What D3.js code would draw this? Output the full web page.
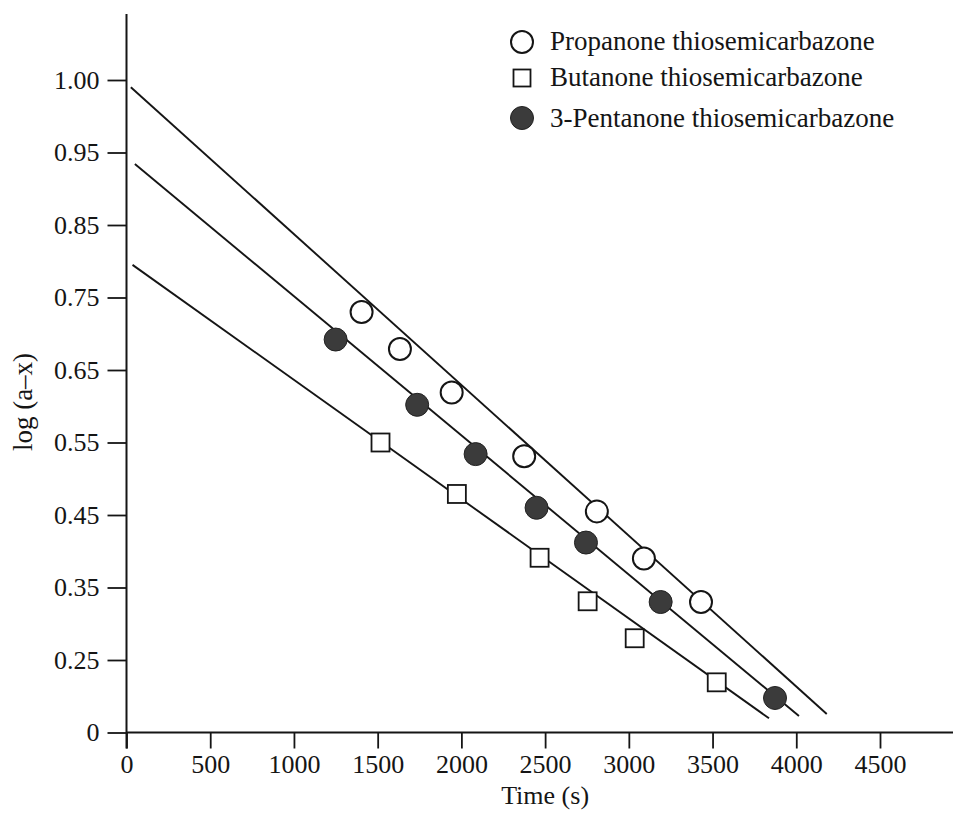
<!DOCTYPE html>
<html>
<head>
<meta charset="utf-8">
<script src="https://cdn.jsdelivr.net/npm/d3@7"></script>
<style>
  html, body { margin: 0; padding: 0; background: #fff; }
  svg { display: block; font-family: "Liberation Serif", "Times New Roman", serif; }
</style>
</head>
<body>
<svg id="chart" width="954" height="814"></svg>
<script>
// ---------- data ----------
const seriesNames = ["Propanone thiosemicarbazone", "Butanone thiosemicarbazone", "3-Pentanone thiosemicarbazone"];

const propTime = [1404, 1633, 1942, 2375, 2809, 3090, 3431];
const propVal  = [0.730, 0.679, 0.619, 0.531, 0.455, 0.390, 0.330];

const butTime  = [1517, 1973, 2467, 2754, 3035, 3525];
const butVal   = [0.550, 0.479, 0.391, 0.331, 0.280, 0.173];

const pentTime = [1249, 1736, 2085, 2449, 2744, 3190, 3873];
const pentVal  = [0.692, 0.602, 0.534, 0.460, 0.412, 0.330, 0.119];

// fitted straight lines: [start, end]
const propFitTime = [26, 4182];
const propFitVal  = [0.995, 0.064];
const butFitTime  = [36, 3837];
const butFitVal   = [0.795, 0.049];
const pentFitTime = [50, 4016];
const pentFitVal  = [0.934, 0.057];

const xTicks = [0, 500, 1000, 1500, 2000, 2500, 3000, 3500, 4000, 4500];
const yTicks = [0, 0.25, 0.35, 0.45, 0.55, 0.65, 0.75, 0.85, 0.95, 1.00];
const yTickLabels = ["0", "0.25", "0.35", "0.45", "0.55", "0.65", "0.75", "0.85", "0.95", "1.00"];

const xLabel = "Time (s)";
const yLabel = "log (a\u2013x)";

// ---------- layout ----------
const svg = d3.select("#chart");
const W = 954, H = 814;
const left = 126.5, xRight = 880;
const yBottom = 732.5, yTop = 80;
const ink = "#151515";
const fillDark = "#3b3b3b";

const x = d3.scaleLinear().domain([0, 4500]).range([left, xRight]);
// axis ticks are evenly spaced on the page (piecewise linear scale)
const step = (yBottom - yTop) / (yTicks.length - 1);
const y = d3.scaleLinear().domain(yTicks).range(yTicks.map((d, i) => yBottom - i * step));

// ---------- axes ----------
const gx = svg.append("g").attr("transform", `translate(0,${yBottom})`)
  .call(d3.axisBottom(x).tickValues(xTicks).tickFormat(d3.format("d"))
        .tickSize(16).tickSizeOuter(0).tickPadding(6));
gx.select(".domain").remove();
gx.selectAll(".tick line").attr("stroke", ink).attr("stroke-width", 1.8);
gx.selectAll(".tick text").attr("fill", ink).style("font-size", "26px")
  .style("font-family", "'Liberation Serif', 'Times New Roman', serif");
svg.append("line").attr("x1", left).attr("x2", W - 1)
  .attr("y1", yBottom).attr("y2", yBottom)
  .attr("stroke", ink).attr("stroke-width", 2);

const gy = svg.append("g").attr("transform", `translate(${left},0)`)
  .call(d3.axisLeft(y).tickValues(yTicks).tickFormat((d, i) => yTickLabels[i])
        .tickSize(19).tickSizeOuter(0).tickPadding(8));
gy.select(".domain").remove();
gy.selectAll(".tick line").attr("stroke", ink).attr("stroke-width", 1.8);
gy.selectAll(".tick text").attr("fill", ink).style("font-size", "26px")
  .style("font-family", "'Liberation Serif', 'Times New Roman', serif");
svg.append("line").attr("x1", left).attr("x2", left)
  .attr("y1", 14).attr("y2", yBottom + 16)
  .attr("stroke", ink).attr("stroke-width", 2);

// axis titles
svg.append("text").attr("x", x(2500)).attr("y", 804)
  .attr("text-anchor", "middle").attr("fill", ink)
  .style("font-size", "26px").text(xLabel);
svg.append("text").attr("transform", `translate(23,${402}) rotate(-90)`)
  .attr("text-anchor", "middle").attr("dy", "0.35em").attr("fill", ink)
  .style("font-size", "27px").text(yLabel);

// ---------- fitted lines ----------
const line = d3.line().x(d => x(d[0])).y(d => y(d[1]));
const fits = [
  d3.zip(propFitTime, propFitVal),
  d3.zip(butFitTime, butFitVal),
  d3.zip(pentFitTime, pentFitVal)
];
svg.append("g").selectAll("path").data(fits).join("path")
  .attr("d", line).attr("fill", "none").attr("stroke", ink).attr("stroke-width", 1.9);

// ---------- markers ----------
const R = 11, SQ = 18;
svg.append("g").selectAll("circle").data(d3.zip(propTime, propVal)).join("circle")
  .attr("cx", d => x(d[0])).attr("cy", d => y(d[1])).attr("r", R)
  .attr("fill", "#fff").attr("stroke", ink).attr("stroke-width", 2);

svg.append("g").selectAll("rect").data(d3.zip(butTime, butVal)).join("rect")
  .attr("x", d => x(d[0]) - SQ / 2).attr("y", d => y(d[1]) - SQ / 2)
  .attr("width", SQ).attr("height", SQ)
  .attr("fill", "#fff").attr("stroke", ink).attr("stroke-width", 1.8);

svg.append("g").selectAll("circle").data(d3.zip(pentTime, pentVal)).join("circle")
  .attr("cx", d => x(d[0])).attr("cy", d => y(d[1])).attr("r", R + 0.5)
  .attr("fill", fillDark).attr("stroke", "#222").attr("stroke-width", 1);

// ---------- legend ----------
const legend = svg.append("g");
const legY = [42, 78, 118];
const legBase = [50, 86, 127];
seriesNames.forEach((name, i) => {
  const mx = 522;
  if (i === 0) {
    legend.append("circle").attr("cx", mx).attr("cy", legY[i]).attr("r", R)
      .attr("fill", "#fff").attr("stroke", ink).attr("stroke-width", 2);
  } else if (i === 1) {
    legend.append("rect").attr("x", mx - 8.5).attr("y", legY[i] - 8.5)
      .attr("width", 17).attr("height", 17)
      .attr("fill", "#fff").attr("stroke", ink).attr("stroke-width", 1.8);
  } else {
    legend.append("circle").attr("cx", mx).attr("cy", legY[i]).attr("r", R + 0.5)
      .attr("fill", fillDark).attr("stroke", "#222").attr("stroke-width", 1);
  }
  legend.append("text").attr("x", 550).attr("y", legBase[i]).attr("fill", ink)
    .style("font-size", "27px").text(name);
});
</script>
</body>
</html>
